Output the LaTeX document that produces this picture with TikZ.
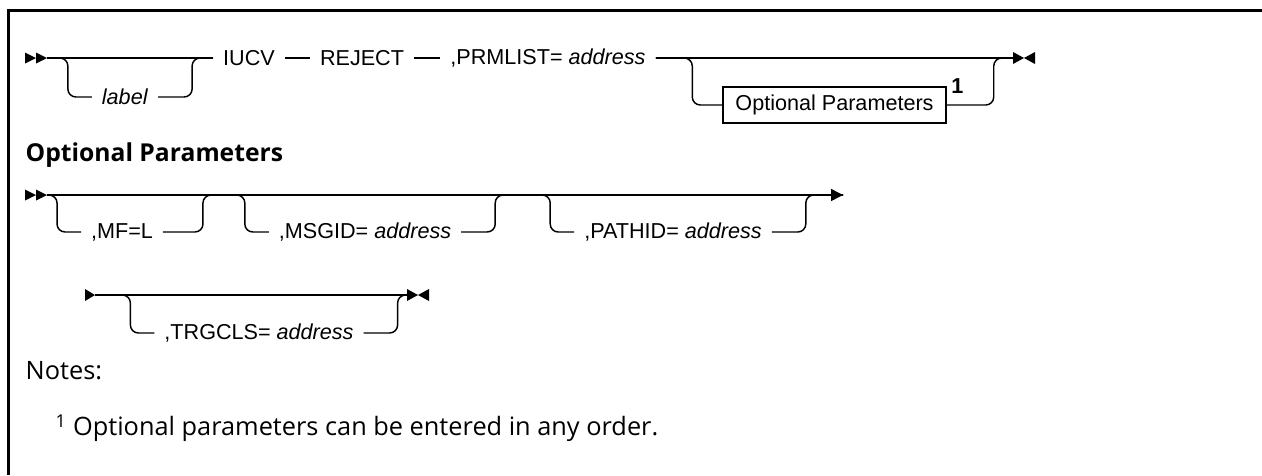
\documentclass[tikz,border=0pt]{standalone}
\usepackage{fontspec}
\setmainfont{Liberation Sans}
\newfontfamily\notesfont{Open Sans}
\usetikzlibrary{arrows.meta}

\tikzset{every picture/.style={line width=1.1pt}}
\tikzset{
  rail/.style={rounded corners=6pt},
  syn/.style={inner xsep=7pt, inner ysep=1pt, font=\fontsize{16.2}{19}\selectfont},
  synbox/.style={syn, draw, minimum width=167.25pt, minimum height=27pt},
  endarrow/.style={-{Triangle[length=9pt,width=9pt]}},
  pics/twohead/.style={code={\fill (-11,-5.5) -- (0,0) -- (-11,5.5) -- cycle; \fill (0,-5.5) -- (11,0) -- (0,5.5) -- cycle;}},
  pics/onehead/.style={code={\fill (-5,-6) -- (5,0) -- (-5,6) -- cycle;}},
  pics/bowtie/.style={code={\fill (-11,-6) -- (0,0) -- (-11,6) -- cycle; \fill (11,-6) -- (0,0) -- (11,6) -- cycle;}}
}

\begin{document}
\begin{tikzpicture}[x=0.75pt,y=0.75pt,yscale=-1,xscale=1]
	\useasboundingbox (0,0) rectangle (1262,475);
	
	%Frame
	\draw [line width=2.25pt] (8,475) -- (8,10) -- (1262,10) ;
	
	% Row 1
	\pic at (36,58) {twohead};
	\coordinate (r1s) at (47,58);
	\coordinate (r1e) at (1013,58);
	\pic at (1024,58) {bowtie};
	\node [syn] (lbl) at (125,97) {\textit{label}};
	\node [syn] (iucv) at (249,58) {IUCV};
	\node [syn] (rej) at (362,58) {REJECT};
	\node [syn] (prm) at (548,58) {,PRMLIST= \textit{address}};
	\node [synbox] (opt) at (834.5,105) {Optional Parameters};
	\node [syn, inner sep=0pt, anchor=south west, font=\bfseries\fontsize{16.2}{19}\selectfont] (fn) at ([xshift=3pt,yshift=6pt]opt.north east) {1};
	\draw (r1s) -- (iucv) ;
	\draw (iucv) -- (rej) ;
	\draw (rej) -- (prm) ;
	\draw (prm) -- (r1e) ;
	\draw [rail] (lbl.west) -- ++(-24,0) |- (r1s) ;
	\draw [rail] (lbl.east) -- ++(34,0) |- (iucv.west) ;
	\draw [rail] (opt.west) -- ++(-30,0) |- (prm.east) ;
	\draw [rail] (opt.east) -- ++(47,0) |- (r1e) ;
	
	% Heading
	\node [anchor=west, inner sep=0pt, font=\notesfont\bfseries\fontsize{18.5}{22}\selectfont] (head) at (25,155) {Optional Parameters};
	
	% Row 2
	\pic at (36,195) {twohead};
	\coordinate (r2s) at (47,195);
	\coordinate (r2e) at (843,195);
	\node [syn] (mf) at (122,232) {,MF=L};
	\node [syn] (msgid) at (365,232) {,MSGID= \textit{address}};
	\node [syn] (pathid) at (673,232) {,PATHID= \textit{address}};
	\draw [endarrow] (r2s) -- (r2e) ;
	\draw [rail] (mf.west) -- ++(-24,0) |- (r2s) ;
	\draw [rail] (mf.east) -- ++(40,0) |- (r2e) ;
	\draw [rail] (msgid.west) -- ++(-24,0) |- (r2s) ;
	\draw [rail] (msgid.east) -- ++(34,0) |- (r2e) ;
	\draw [rail] (pathid.west) -- ++(-24,0) |- (r2s) ;
	\draw [rail] (pathid.east) -- ++(34,0) |- (r2e) ;
	
	% Row 3
	\pic at (90,295) {onehead};
	\coordinate (r3s) at (95,295);
	\coordinate (r3e) at (407,295);
	\pic at (418,295) {bowtie};
	\node [syn] (trg) at (259,333) {,TRGCLS= \textit{address}};
	\draw (r3s) -- (r3e) ;
	\draw [rail] (trg.west) -- ++(-24,0) |- (r3s) ;
	\draw [rail] (trg.east) -- ++(34,0) |- (r3e) ;
	
	% Notes
	\node [anchor=west, inner sep=0pt, font=\notesfont\fontsize{19}{22}\selectfont] (notes) at (25,371) {Notes:};
	\node [anchor=west, inner sep=0pt, font=\notesfont\fontsize{19}{22}\selectfont] (note1) at (55,428) {\textsuperscript{1} Optional parameters can be entered in any order.};
\end{tikzpicture}
\end{document}
